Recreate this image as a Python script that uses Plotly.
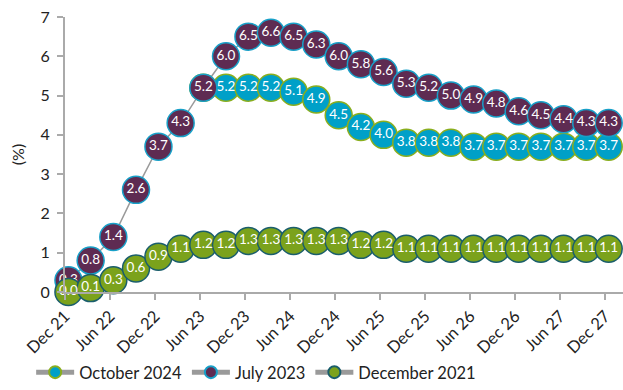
import plotly.graph_objects as go

dates = [f"{2021 + (11 + 3 * i) // 12}-{(11 + 3 * i) % 12 + 1:02d}-15" for i in range(25)]

oct2024 = [None] * 6 + [5.2, 5.2, 5.2, 5.2, 5.1, 4.9, 4.5, 4.2, 4.0, 3.8, 3.8, 3.8,
                        3.7, 3.7, 3.7, 3.7, 3.7, 3.7, 3.7]
jul2023 = [0.3, 0.8, 1.4, 2.6, 3.7, 4.3, 5.2, 6.0, 6.5, 6.6, 6.5, 6.3, 6.0, 5.8, 5.6,
           5.3, 5.2, 5.0, 4.9, 4.8, 4.6, 4.5, 4.4, 4.3, 4.3]
dec2021 = [0.0, 0.1, 0.3, 0.6, 0.9, 1.1, 1.2, 1.2, 1.3, 1.3, 1.3, 1.3, 1.3, 1.2, 1.2,
           1.1, 1.1, 1.1, 1.1, 1.1, 1.1, 1.1, 1.1, 1.1, 1.1]

tick_dates = [f"{2021 + (11 + 6 * i) // 12}-{(11 + 6 * i) % 12 + 1:02d}-01" for i in range(13)]
tick_labels = ["Dec 21", "Jun 22", "Dec 22", "Jun 23", "Dec 23", "Jun 24", "Dec 24",
               "Jun 25", "Dec 25", "Jun 26", "Dec 26", "Jun 27", "Dec 27"]

series = [
    ("October 2024", oct2024, "#00A0C8", "#8AAE1E"),
    ("July 2023", jul2023, "#5E2B52", "#18A0C8"),
    ("December 2021", dec2021, "#7BA21C", "#1A5E6C"),
]

FONT = "Lato"
fig = go.Figure()
for name, vals, fill, edge in series:
    fig.add_trace(go.Scatter(
        x=dates, y=vals, name=name, mode="lines+markers+text",
        line=dict(color="#9A9A9A", width=1.5),
        marker=dict(size=27, color=fill, line=dict(color=edge, width=1.5)),
        text=[None if v is None else f"{v:.1f}" for v in vals],
        textposition="middle center",
        textfont=dict(color="white", size=13.5, family=FONT),
        cliponaxis=False,
    ))

fig.update_layout(
    width=623, height=390,
    margin=dict(l=65, r=0, t=17, b=98, autoexpand=False),
    paper_bgcolor="white", plot_bgcolor="white",
    font=dict(family=FONT, color="#222222", size=14),
    showlegend=True,
    legend=dict(orientation="h", xref="container", x=0.05, xanchor="left",
                yref="container", y=0.045, yanchor="middle",
                bgcolor="rgba(0,0,0,0)",
                font=dict(size=16.5, family=FONT), itemsizing="constant",
                tracegroupgap=0, itemwidth=38),
    xaxis=dict(type="date", range=["2021-12-01", "2028-02-11"], automargin=False,
               tickvals=tick_dates, ticktext=tick_labels, tickangle=-45,
               showgrid=False, zeroline=False, showline=True, linecolor="#AAAAAA",
               linewidth=2, ticks="outside", tickcolor="#AAAAAA", ticklen=6,
               tickwidth=1.5, tickfont=dict(size=16.5)),
    yaxis=dict(range=[0, 7], dtick=1, showgrid=False, zeroline=False, showline=True,
               automargin=False, ticklabelstandoff=4,
               linecolor="#AAAAAA", linewidth=2, ticks="outside", tickcolor="#AAAAAA",
               ticklen=6, tickwidth=1.5, tickfont=dict(size=16),
               title=dict(text="(%)", font=dict(size=16), standoff=12)),
)

fig.write_html("out.html")
